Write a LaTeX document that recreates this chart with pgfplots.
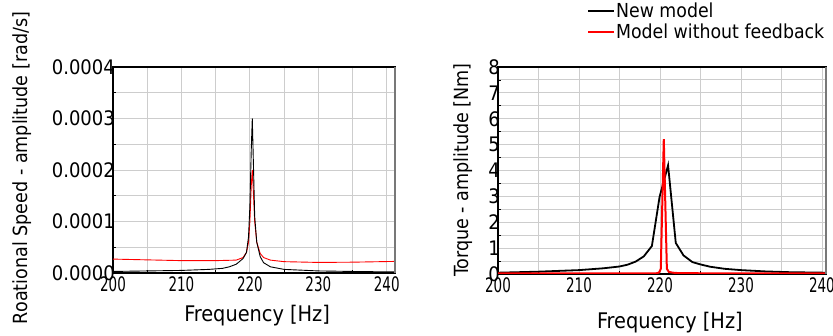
\documentclass[border=0pt]{standalone}
\usepackage{fontspec}
\setmainfont{DejaVu Sans Condensed}
\newfontfamily\narrowfont[FakeStretch=0.75]{DejaVu Sans Condensed}
\usepackage{pgfplots}
\pgfplotsset{compat=1.18}
\definecolor{gridgray}{RGB}{205,205,205}
\definecolor{framegray}{RGB}{120,120,120}
\pgfplotsset{
  fftstyle/.style={
    scale only axis,
    anchor=south west,
    grid=both,
    major grid style={gridgray, line width=0.9pt},
    minor grid style={gridgray, line width=0.9pt},
    axis line style={black, line width=1.3pt},
    tick pos=left,
    major tick length=0pt,
    minor tick length=3pt,
    tick style={black, line width=0.8pt},
    tick align=inside,
    /pgf/number format/assume math mode=true,
    yticklabel style={anchor=east, inner sep=0pt, xshift=2pt, font=\fontsize{20}{23}\selectfont},
    xticklabel style={anchor=north, inner sep=0pt, yshift=-3.5pt, font=\narrowfont\fontsize{20}{23}\selectfont},
    xlabel style={font=\fontsize{21.5}{25}\selectfont},
    ylabel style={font=\fontsize{19.5}{23}\selectfont},
    xtick={200,210,220,230,240},
    minor xtick={205,215,225,235},
    xmin=200,
    after end axis/.code={\draw[framegray, line width=2pt] (rel axis cs:1,0) -- (rel axis cs:1,1);},
  }
}
\begin{document}
\begin{tikzpicture}
\useasboundingbox (0pt,0pt) rectangle (833pt,336pt);
\begin{axis}[fftstyle,
  at={(113pt,63pt)}, width=282pt, height=206pt,
  xmax=241.2, ymin=0, ymax=0.0004,
  ytick={0,0.0001,0.0002,0.0003,0.0004},
  minor ytick={0.00005,0.00015,0.00025,0.00035},
  scaled y ticks=false,
  yticklabel style={/pgf/number format/fixed, /pgf/number format/fixed zerofill, /pgf/number format/precision=4},
  xlabel={Frequency [Hz]},
  ylabel={Roational Speed - amplitude [rad/s]},
  xlabel style={at={(rel axis cs:0.511,-0.209)}, anchor=center},
  ylabel style={at={(rel axis cs:-0.321,0.51)}, anchor=center},
]
\addplot[red, line width=0.9pt] coordinates {
(200,0.000027) (205,0.0000255) (210,0.000024) (215,0.000024) (218,0.000025)
(219,0.000030) (219.5,0.000040) (219.8,0.00006) (220.0,0.00010) (220.2,0.00017)
(220.35,0.0002) (220.5,0.00016) (220.7,0.0001) (221,0.00006) (221.5,0.000038)
(222,0.00003) (223,0.000025) (225,0.000022) (230,0.0000205) (235,0.000021) (241.2,0.0000225)
};
\addplot[black, line width=0.9pt] coordinates {
(200,0.000003) (205,0.000004) (210,0.000005) (214,0.000007) (216,0.000009)
(217,0.000012) (218,0.000017) (219,0.000028) (219.5,0.00004) (219.8,0.00007)
(220.0,0.00013) (220.2,0.00024) (220.35,0.0003) (220.5,0.00022) (220.7,0.00011)
(221,0.00006) (221.5,0.000032) (222,0.00002) (223,0.000012) (225,0.000007)
(230,0.000004) (235,0.000003) (241.2,0.000002)
};
\end{axis}
\begin{axis}[fftstyle,
  at={(498pt,62pt)}, width=328pt, height=207pt,
  xmax=240.5, ymin=0, ymax=8,
  ytick={0,1,2,3,4,5,6,7,8},
  minor ytick={0.5,1.5,2.5,3.5,4.5,5.5,6.5,7.5},
  xlabel={Frequency [Hz]},
  ylabel={Torque - amplitude [Nm]},
  xlabel style={at={(rel axis cs:0.524,-0.237)}, anchor=center},
  ylabel style={at={(rel axis cs:-0.107,0.502)}, anchor=center},
  legend style={at={(rel axis cs:0.271,1.315)}, anchor=north west, draw=none, fill=none,
    inner sep=0pt, font=\fontsize{19.3}{22}\selectfont, row sep=3pt, nodes={inner sep=1pt}},
  legend cell align=left,
  legend image code/.code={\draw[#1] (0pt,0pt) -- (26pt,0pt);},
]
\addplot[black, line width=1.8pt] coordinates {
(200,0.05) (205,0.09) (210,0.15) (213,0.22) (215,0.29) (216,0.36) (217,0.48)
(218,0.68) (219,1.08) (219.95,2.98) (221.0,4.2) (221.95,1.2) (222.9,0.72)
(224.0,0.46) (225,0.37) (226.2,0.28) (228,0.2) (230,0.15) (233,0.1) (236,0.07) (240.5,0.05)
};
\addlegendentry{New model}
\addplot[red, line width=2pt] coordinates {
(200,0.02) (210,0.02) (219.5,0.02) (219.9,0.06) (220.1,0.2) (220.47,5.21)
(220.85,0.2) (221.1,0.08) (221.6,0.05) (222.5,0.03) (240.5,0.02)
};
\addlegendentry{Model without feedback}
\end{axis}
\end{tikzpicture}
\end{document}
